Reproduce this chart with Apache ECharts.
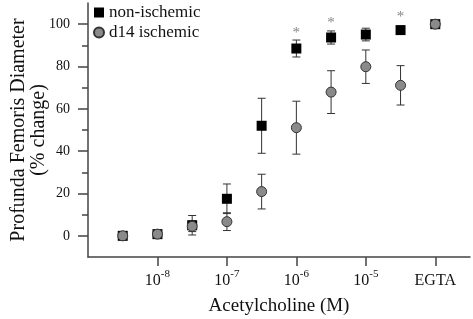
<!DOCTYPE html>
<html lang="en">
<head>
    <meta charset="UTF-8">
    <title>Acetylcholine response</title>
    <script src="https://cdn.jsdelivr.net/npm/echarts@6/dist/echarts.min.js"></script>
    <style>
        html, body { margin: 0; padding: 0; background: #fff; }
        #main { width: 473px; height: 319px; }
    </style>
</head>
<body>
    <div id="main"></div>
    <script>
        // log10 of acetylcholine dose; -4 is where EGTA sits
        var logDose = [-8.5, -8, -7.5, -7, -6.5, -6, -5.5, -5, -4.5, -4];
        var nonIsch = [0, 0.8, 5, 17.5, 52, 88.5, 93.7, 95.1, 97.2, 100];
        var nonIschErr = [0, 0, 4.6, 7, 13, 4, 3.1, 3, 0, 0];
        var isch = [0, 0.8, 4.5, 6.7, 20.9, 51.1, 67.9, 79.9, 71.1, 100];
        var ischErr = [0, 0, 2.5, 4.2, 8.2, 12.5, 10.1, 7.9, 9.3, 0];
        // significance stars
        var starDose = [-6, -5.5, -4.5];
        var starY = [96, 100.5, 103.5];
        var xTicks = [-8, -7, -6, -5, -4];
        var yMajor = [0, 20, 40, 60, 80, 100];
        var yMinor = [10, 30, 50, 70, 90];

        var font = '"Liberation Serif", "Times New Roman", serif';
        var axisCol = '#444';

        function pts(ys) {
            return logDose.map(function (x, i) { return [x, ys[i]]; });
        }
        function errData(ys, es) {
            var out = [];
            logDose.forEach(function (x, i) {
                if (es[i] > 0) out.push([x, ys[i] - es[i], ys[i] + es[i]]);
            });
            return out;
        }
        function errBar(params, api) {
            var lo = api.coord([api.value(0), api.value(1)]);
            var hi = api.coord([api.value(0), api.value(2)]);
            var w = 4;
            var st = { stroke: '#333', lineWidth: 1 };
            return {
                type: 'group',
                children: [
                    { type: 'line', shape: { x1: lo[0], y1: lo[1], x2: hi[0], y2: hi[1] }, style: st },
                    { type: 'line', shape: { x1: lo[0] - w, y1: lo[1], x2: lo[0] + w, y2: lo[1] }, style: st },
                    { type: 'line', shape: { x1: hi[0] - w, y1: hi[1], x2: hi[0] + w, y2: hi[1] }, style: st }
                ]
            };
        }

        var myChart = echarts.init(document.getElementById('main'));
        myChart.setOption({
            animation: false,
            backgroundColor: '#fff',
            grid: { left: 88, right: 3, top: 3, bottom: 62, outerBoundsMode: 'none' },
            legend: {
                orient: 'vertical',
                left: 93,
                top: 4,
                padding: 0,
                itemGap: 3,
                itemWidth: 10,
                itemHeight: 10,
                textStyle: { fontFamily: font, fontSize: 17, color: '#111' },
                data: [
                    { name: 'non-ischemic', icon: 'rect' },
                    { name: 'd14 ischemic', icon: 'circle' }
                ]
            },
            xAxis: {
                type: 'value',
                min: -9,
                max: -3.5,
                name: 'Acetylcholine (M)',
                nameLocation: 'middle',
                nameGap: 40,
                nameMoveOverlap: false,
                nameTextStyle: { fontFamily: font, fontSize: 19, color: '#111' },
                axisLine: { show: true, onZero: false, lineStyle: { color: axisCol, width: 1.5 } },
                axisTick: { show: true, customValues: xTicks, length: 9, lineStyle: { color: axisCol, width: 1.5 } },
                splitLine: { show: false },
                axisLabel: {
                    customValues: xTicks,
                    margin: 12,
                    fontFamily: font,
                    color: '#111',
                    formatter: function (v) {
                        if (v === -4) return '{e|EGTA}';
                        return '{b|10}{s|' + v + '}';
                    },
                    rich: {
                        b: { fontSize: 16, fontFamily: font, color: '#111', verticalAlign: 'bottom', lineHeight: 20 },
                        s: { fontSize: 11, fontFamily: font, color: '#111', verticalAlign: 'top', lineHeight: 20, padding: [0, 0, 10, 0] },
                        e: { fontSize: 16, fontFamily: font, color: '#111', lineHeight: 20, verticalAlign: 'bottom' }
                    }
                }
            },
            yAxis: [{
                type: 'value',
                min: -10,
                max: 110,
                name: 'Profunda Femoris Diameter\n(% change)',
                nameLocation: 'middle',
                nameRotate: 90,
                nameGap: 39,
                nameMoveOverlap: false,
                nameTextStyle: { fontFamily: font, fontSize: 20, color: '#111', lineHeight: 20 },
                axisLine: { show: true, onZero: false, lineStyle: { color: axisCol, width: 1.5 } },
                axisTick: { show: true, customValues: yMajor, length: 10, lineStyle: { color: axisCol, width: 1.5 } },
                splitLine: { show: false },
                axisLabel: { customValues: yMajor, margin: 18, fontFamily: font, fontSize: 14, color: '#111' }
            }, {
                type: 'value',
                min: -10,
                max: 110,
                position: 'left',
                axisLine: { show: false, onZero: false },
                axisTick: { show: true, customValues: yMinor, length: 6, lineStyle: { color: axisCol, width: 1.5 } },
                splitLine: { show: false },
                axisLabel: { show: false }
            }],
            series: [{
                name: 'errNon',
                type: 'custom',
                renderItem: errBar,
                data: errData(nonIsch, nonIschErr),
                z: 1
            }, {
                name: 'errIsch',
                type: 'custom',
                renderItem: errBar,
                data: errData(isch, ischErr),
                z: 1
            }, {
                name: 'non-ischemic',
                type: 'scatter',
                symbol: 'rect',
                symbolSize: 10,
                itemStyle: { color: '#000', opacity: 1 },
                data: pts(nonIsch),
                z: 3
            }, {
                name: 'd14 ischemic',
                type: 'scatter',
                symbol: 'circle',
                symbolSize: 10,
                itemStyle: { color: '#8a8a8a', borderColor: '#333', borderWidth: 1, opacity: 1 },
                data: pts(isch),
                z: 4
            }, {
                name: 'stars',
                type: 'scatter',
                symbolSize: 0,
                data: starDose.map(function (x, i) { return [x, starY[i]]; }),
                label: {
                    show: true,
                    position: 'inside',
                    formatter: '*',
                    fontFamily: font,
                    fontSize: 15,
                    color: '#666'
                },
                z: 5
            }]
        });
    </script>
</body>
</html>
